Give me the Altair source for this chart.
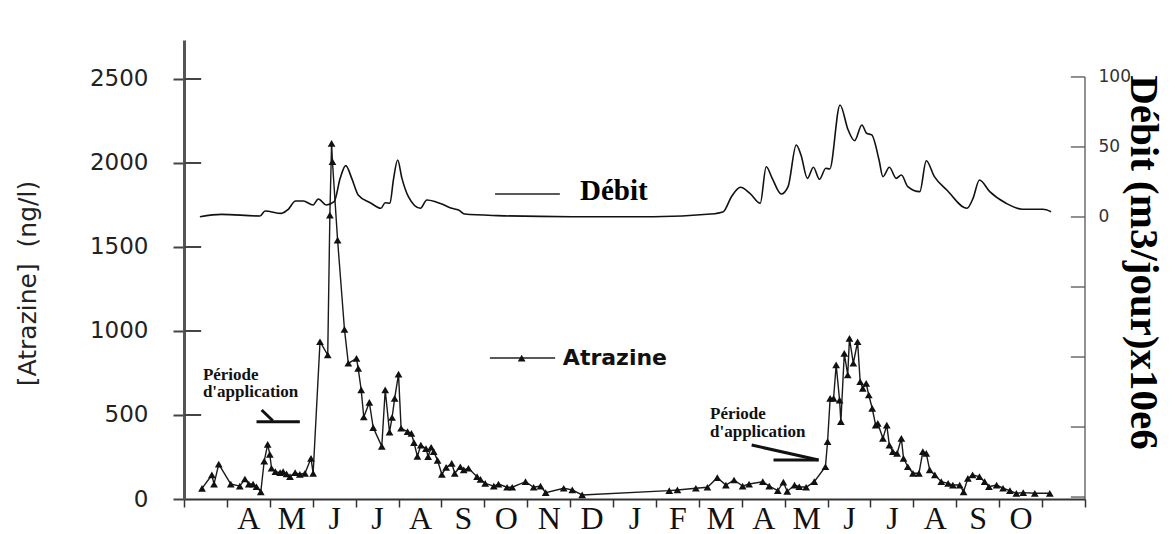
import altair as alt
import pandas as pd

# ---------------- data ----------------
months = ["A", "M", "J", "J", "A", "S", "O", "N", "D", "J", "F",
          "M", "A", "M", "J", "J", "A", "S", "O"]

# Atrazine (ng/l) ; x = months since start of axis (March, year 1)
atr_m = [0.42, 0.65, 0.70, 0.81, 1.09, 1.30, 1.42, 1.51, 1.61, 1.69,
         1.79, 1.87, 1.95, 2.00, 2.04, 2.13, 2.24, 2.31, 2.39, 2.47,
         2.59, 2.70, 2.82, 2.96, 3.01, 3.17, 3.35, 3.40, 3.44, 3.46,
         3.58, 3.74, 3.83, 4.02, 4.06, 4.13, 4.19, 4.32, 4.41, 4.61,
         4.69, 4.79, 4.85, 4.91, 5.00, 5.06, 5.21, 5.30, 5.36, 5.44,
         5.52, 5.64, 5.69, 5.76, 5.82, 5.91, 6.01, 6.11, 6.24, 6.31,
         6.44, 6.52, 6.63, 6.83, 6.91, 7.02, 7.22, 7.33, 7.53, 7.65,
         7.96, 8.15, 8.31, 8.43, 8.85, 9.05, 9.28, 11.31, 11.50, 11.93,
         12.20, 12.43, 12.63, 12.82, 13.02, 13.17, 13.49, 13.64, 13.84, 13.97,
         14.06, 14.23, 14.34, 14.50, 14.69, 14.95, 15.00, 15.06, 15.14, 15.20,
         15.28, 15.31, 15.39, 15.47, 15.51, 15.60, 15.70, 15.76, 15.82, 15.90,
         15.96, 16.04, 16.12, 16.17, 16.29, 16.38, 16.44, 16.52, 16.62, 16.72,
         16.77, 16.87, 16.99, 17.13, 17.22, 17.30, 17.38, 17.50, 17.65, 17.81,
         17.92, 18.08, 18.17, 18.27, 18.38, 18.54, 18.66, 18.76, 18.94, 19.09,
         19.25, 19.40, 19.56, 19.83, 20.18]
atr_a = [63, 143, 89, 208, 89, 77, 119, 89, 89, 73,
         43, 226, 325, 266, 183, 163, 157, 163, 149, 133,
         157, 147, 153, 242, 153, 936, 857, 1690, 2117, 2008,
         1541, 1010, 808, 837, 778, 649, 488, 575, 425, 313,
         649, 398, 485, 599, 743, 421, 401, 390, 336, 254,
         321, 300, 252, 308, 282, 230, 146, 188, 212, 153,
         192, 173, 183, 133, 117, 93, 77, 89, 70, 70,
         103, 70, 77, 38, 64, 54, 24, 50, 54, 64,
         70, 127, 83, 113, 77, 89, 103, 77, 50, 100,
         45, 83, 73, 70, 103, 192, 341, 599, 599, 798,
         589, 460, 867, 738, 956, 808, 936, 698, 659, 688,
         619, 540, 440, 450, 361, 440, 321, 282, 271, 361,
         242, 192, 153, 153, 282, 271, 173, 143, 103, 93,
         83, 83, 43, 123, 143, 133, 103, 73, 83, 64,
         50, 34, 38, 34, 34]

# Débit (m3/jour x10e6)
deb_m = [0.37, 0.87, 1.77, 1.89, 2.27, 2.43, 2.60, 2.78, 3.01, 3.13,
         3.32, 3.50, 3.64, 3.77, 3.91, 4.06, 4.34, 4.59, 4.69, 4.80,
         4.88, 4.98, 5.08, 5.23, 5.51, 5.66, 5.86, 6.01, 6.24, 6.40,
         6.54, 7.31, 9.03, 10.94, 12.28, 12.57, 12.76, 12.97, 13.19, 13.43,
         13.57, 13.71, 13.92, 14.08, 14.27, 14.38, 14.53, 14.67, 14.81, 14.96,
         15.05, 15.29, 15.48, 15.63, 15.80, 15.91, 16.03, 16.20, 16.29, 16.44,
         16.60, 16.72, 16.87, 17.15, 17.30, 17.49, 17.78, 18.25, 18.39, 18.54,
         18.78, 19.16, 19.54, 20.02, 20.21]
deb_d = [0.2, 1.9, 0.7, 4.3, 2.6, 5.5, 11.4, 11.4, 8.6, 12.9,
         8.6, 10.9, 27.6, 36.7, 27.6, 15.7, 10.2, 6.2, 10.2, 9.8,
         26.4, 40.7, 27.6, 14.5, 6.2, 12.1, 10.9, 9.3, 6.2, 5.0,
         2.1, 1.0, 0.2, 0.2, 2.1, 3.8, 14.5, 21.2, 16.9, 9.8,
         35.9, 27.6, 16.4, 21.7, 51.4, 44.3, 27.6, 35.5, 26.9, 34.8,
         34.3, 80, 62.1, 54.5, 65.7, 59.8, 58.6, 40.7, 28.8, 35.5,
         27.6, 30, 21.7, 18.1, 40.2, 28.8, 19.3, 6.2, 13.3, 26.4,
         18.1, 9.8, 5.5, 5.5, 3.8]

left_ticks = [0, 500, 1000, 1500, 2000, 2500]
right_ticks = [-200, -150, -100, -50, 0, 50, 100]
right_labels = [0, 50, 100]
month_ticks = list(range(22))

# ---------------- tables ----------------
atr = pd.DataFrame({"m": atr_m, "a": atr_a})
deb = pd.DataFrame({"m": deb_m, "d": deb_d})

X_DOM = [0, 21]
YL_DOM = [0, 2732]
YR_DOM = [-201.4, 126.4]

label_arr = "['', " + ", ".join(f"'{m}'" for m in months) + ", '', '']"
x_axis = alt.Axis(values=month_ticks, labelExpr=f"{label_arr}[datum.value]",
                  labelOffset=21.45, title=None, grid=False,
                  domainColor="#333", domainWidth=2, tickColor="#333",
                  tickWidth=1.5, tickSize=8, labelFont="Liberation Serif",
                  labelFontSize=32, labelColor="#111", labelPadding=21,
                  labelBaseline="alphabetic",
                  labelOverlap=False, labelFlush=False)
yl_axis = alt.Axis(values=left_ticks, format="d", grid=False,
                   labelFont="DejaVu Sans", labelFontSize=23, labelColor="#222",
                   tickSize=11, tickWidth=2, tickColor="#444",
                   domainColor="#555", domainWidth=3, labelPadding=25,
                   title="[Atrazine]\u00a0\u00a0(ng/l)", titleFont="DejaVu Sans",
                   titleFontSize=25, titleFontWeight="normal", titleColor="#222",
                   titleX=-157, titleY=243, titleAngle=270,
                   titleAlign="center", titleBaseline="middle")
yr_axis = alt.Axis(orient="right", values=right_labels, ticks=False, tickSize=0,
                   domain=False, grid=False, labelFont="DejaVu Sans",
                   labelFontSize=17, labelColor="#333", labelPadding=13,
                   title="Débit (m3/jour)x10e6", titleFont="Liberation Serif",
                   titleFontWeight="bold", titleFontSize=41, titleColor="#000",
                   titleX=57, titleY=222, titleAngle=90,
                   titleAlign="center", titleBaseline="middle")

def X(f="m"):
    return alt.X(f"{f}:Q", scale=alt.Scale(domain=X_DOM, nice=False, zero=False), axis=x_axis)

def YL(f="a"):
    return alt.Y(f"{f}:Q", scale=alt.Scale(domain=YL_DOM, nice=False, zero=False), axis=yl_axis)

def YR(f="d"):
    return alt.Y(f"{f}:Q", scale=alt.Scale(domain=YR_DOM, nice=False, zero=False), axis=yr_axis)

# ---------------- left (atrazine) layers ----------------
atr_line = alt.Chart(atr).mark_line(color="#1a1a1a", strokeWidth=1.4).encode(
    x=X(), y=YL(), order="m:Q")
atr_pts = alt.Chart(atr).mark_point(shape="triangle-up", filled=True, size=60,
                                    color="#111", opacity=1).encode(x=X(), y=YL())

left_inner = pd.DataFrame({"m": [0] * 5, "m2": [0.4] * 5, "a": left_ticks[1:], "a2": left_ticks[1:]})
left_in_ticks = alt.Chart(left_inner).mark_rule(color="#444", strokeWidth=2).encode(
    x=X(), x2="m2:Q", y=YL(), y2="a2:Q")

# annotation strokes (période d'application marks, legend lines)
ann = pd.DataFrame({
    "m":  [1.69, 1.81, 13.23, 13.74],
    "m2": [2.70, 2.07, 14.79, 14.79],
    "a":  [460, 530, 321, 232],
    "a2": [460, 466, 232, 232],
})
ann_rules = alt.Chart(ann).mark_rule(color="#111", strokeWidth=3).encode(
    x=X(), x2="m2:Q", y=YL(), y2="a2:Q")

leg = pd.DataFrame({"m": [7.25, 7.13], "m2": [8.76, 8.65], "a": [1815, 839], "a2": [1815, 839]})
leg_rules = alt.Chart(leg).mark_rule(color="#222", strokeWidth=1.5).encode(
    x=X(), x2="m2:Q", y=YL(), y2="a2:Q")
leg_pt = alt.Chart(pd.DataFrame({"m": [7.87], "a": [839]})).mark_point(
    shape="triangle-up", filled=True, size=60, color="#111", opacity=1).encode(x=X(), y=YL())

per_txt = pd.DataFrame({
    "m": [0.44, 0.44, 12.26, 12.26],
    "a": [708, 607, 476, 369],
    "t": ["Période", "d'application", "Période", "d'application"],
})
per_text = alt.Chart(per_txt).mark_text(align="left", baseline="alphabetic",
                                        font="Liberation Serif", fontWeight="bold",
                                        fontSize=17, color="#111").encode(x=X(), y=YL(), text="t:N")
deb_txt = alt.Chart(pd.DataFrame({"m": [9.23], "a": [1780], "t": ["Débit"]})).mark_text(
    align="left", baseline="alphabetic", font="Liberation Serif", fontWeight="bold",
    fontSize=29, color="#000").encode(x=X(), y=YL(), text="t:N")
atr_txt = alt.Chart(pd.DataFrame({"m": [8.83], "a": [798], "t": ["Atrazine"]})).mark_text(
    align="left", baseline="alphabetic", font="DejaVu Sans", fontWeight="bold",
    fontSize=22, color="#111").encode(x=X(), y=YL(), text="t:N")

left = alt.layer(left_in_ticks, atr_line, atr_pts, ann_rules, leg_rules, leg_pt,
                 per_text, deb_txt, atr_txt)

# ---------------- right (débit) layers ----------------
deb_line = alt.Chart(deb).mark_line(color="#111", strokeWidth=1.6,
                                    interpolate="monotone").encode(x=X(), y=YR(), order="m:Q")
r_axis = pd.DataFrame({
    "m": [21] + [20.67] * len(right_ticks),
    "m2": [21] + [21] * len(right_ticks),
    "d": [-201.4] + right_ticks,
    "d2": [100] + right_ticks,
})
r_rules = alt.Chart(r_axis).mark_rule(color="#555", strokeWidth=1.3).encode(
    x=X(), x2="m2:Q", y=YR(), y2="d2:Q")

right = alt.layer(deb_line, r_rules)

chart = alt.layer(left, right).resolve_scale(y="independent").properties(
    width=901, height=459,
    autosize=alt.AutoSizeParams(type="none"),
    padding={"left": 176, "top": 32, "right": 82, "bottom": 35},
    background="white",
).configure_view(stroke=None)

chart.save("out.html", embed_options={"renderer": "svg", "actions": False})
